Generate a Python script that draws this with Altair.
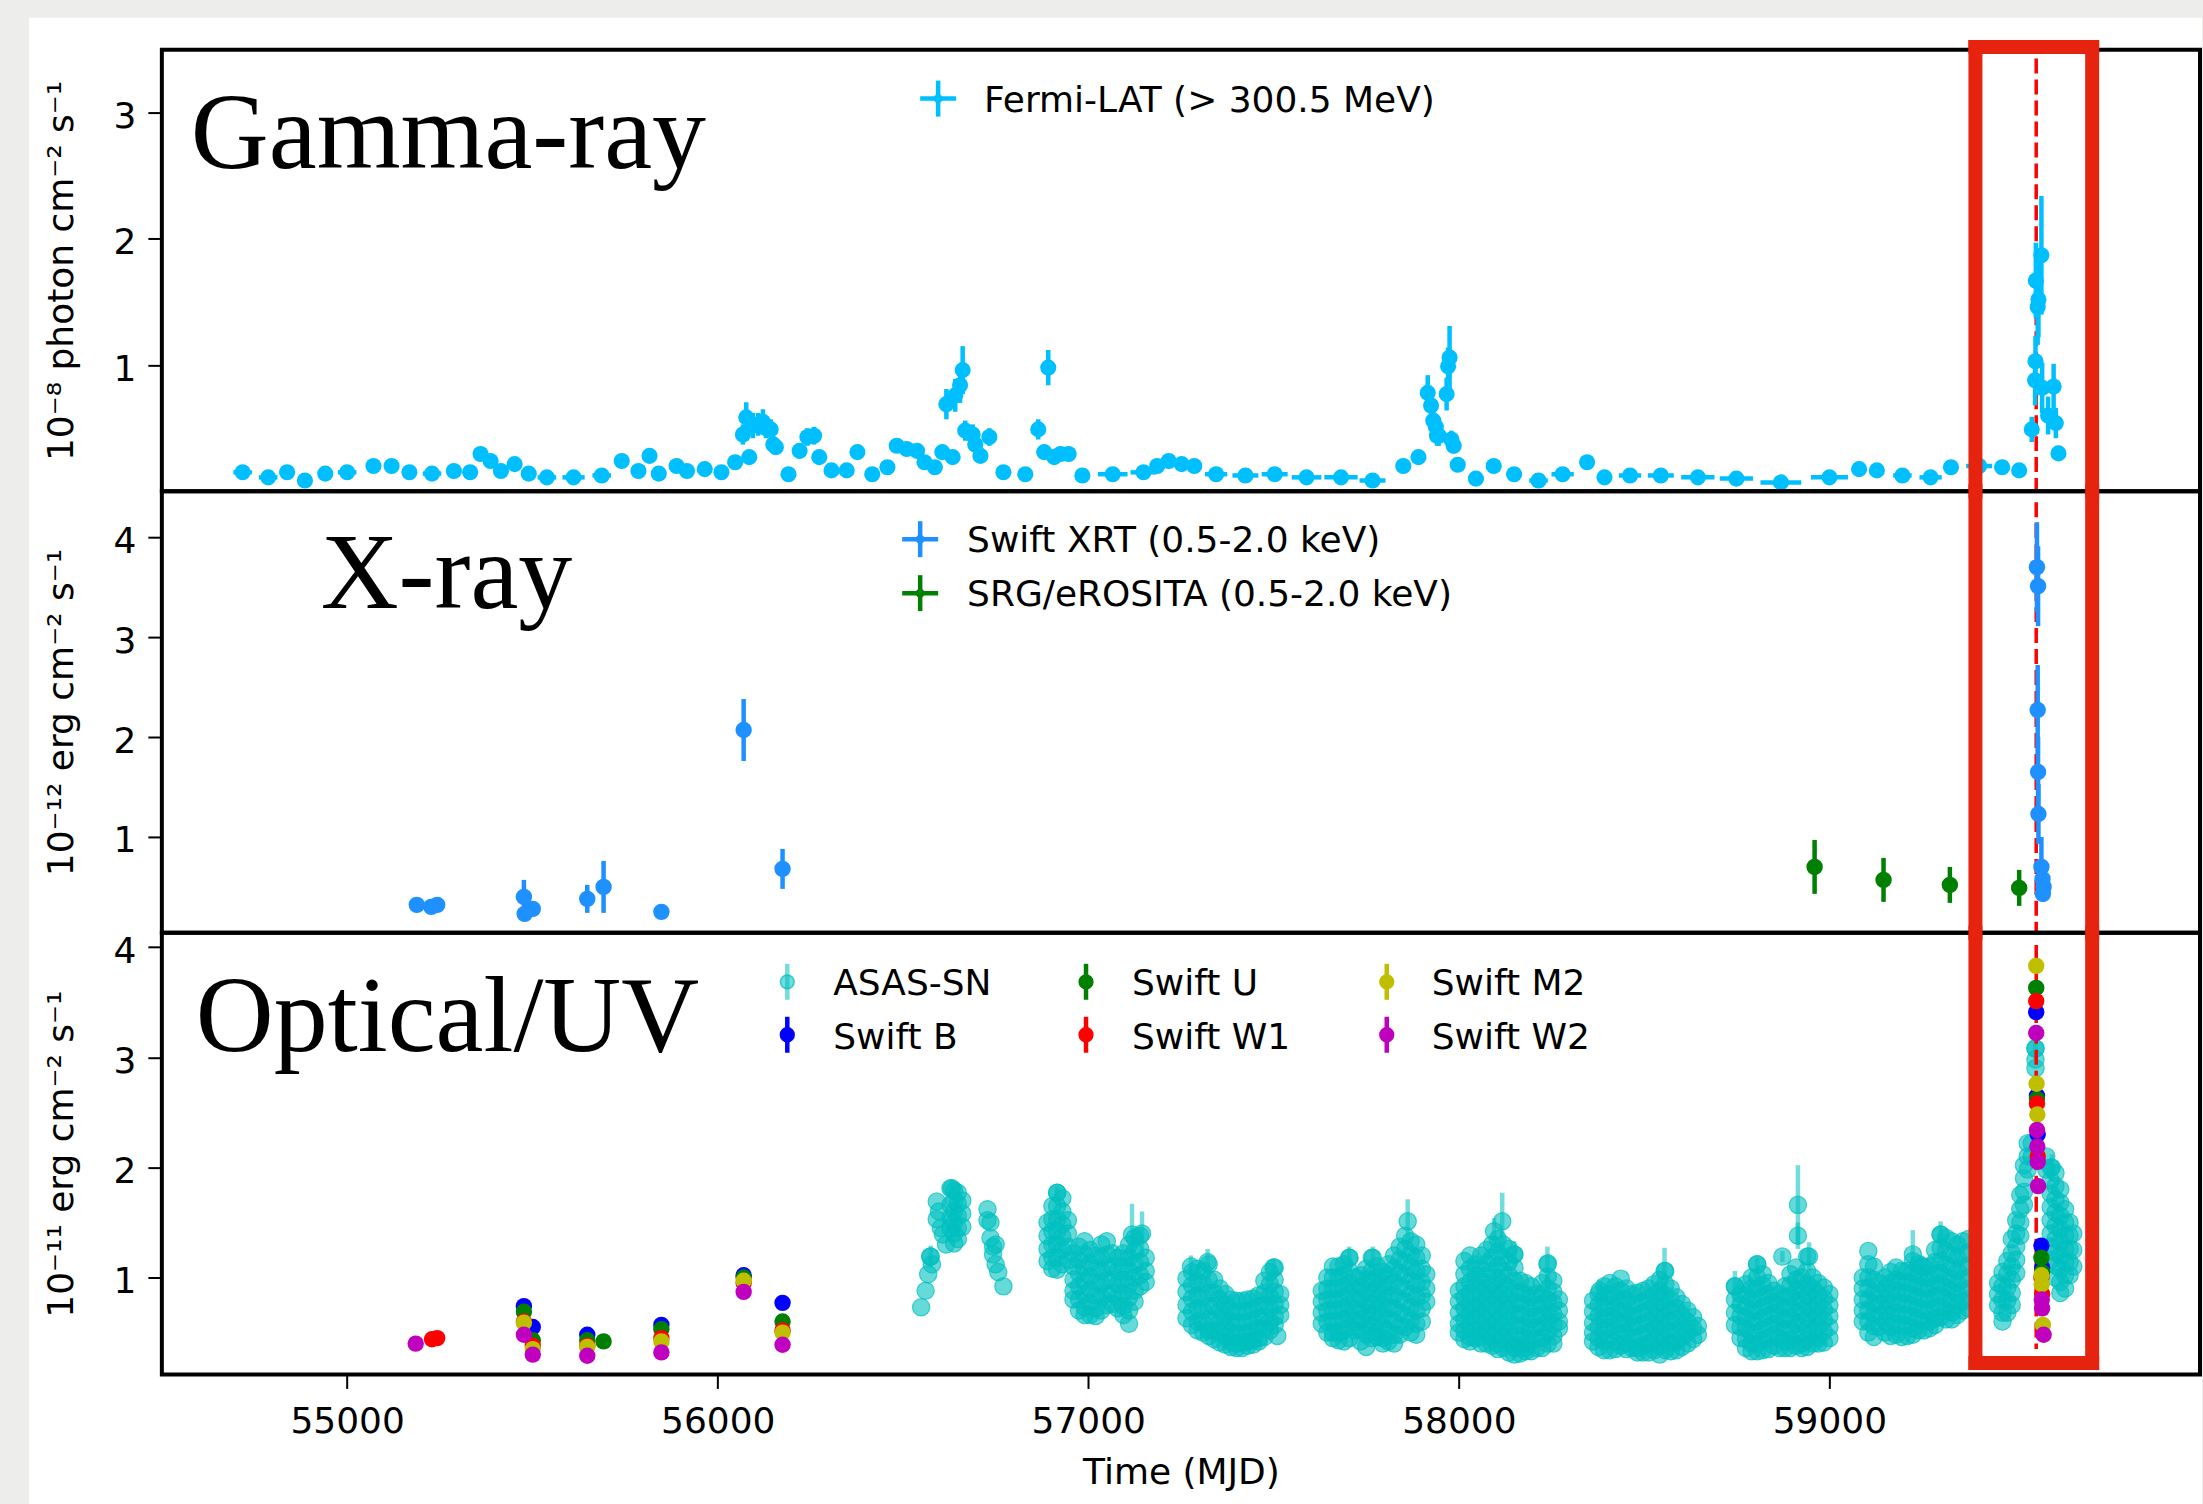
import altair as alt
import pandas as pd

# ---------------- Fermi-LAT (> 300.5 MeV), 1e-8 photon cm^-2 s^-1 ----------------
fermi_mjd = [54718, 54787, 54838, 54886, 54941, 55000, 55071, 55120, 55168, 55229,
             55288, 55332, 55360, 55387, 55415, 55452, 55490, 55539, 55611, 55687,
             55741, 55786, 55816, 55841, 55889, 55917, 55965, 56010, 56047, 56068,
             56077, 56085, 56095, 56109, 56122, 56130, 56143, 56150, 56157, 56191,
             56221, 56242, 56260, 56274, 56307, 56348, 56377, 56417, 56458, 56483,
             56510, 56538, 56558, 56586, 56606, 56617, 56634, 56641, 56654, 56661,
             56668, 56688, 56695, 56709, 56733, 56771, 56830, 56865, 56881, 56892,
             56908, 56925, 56947, 56984, 57066, 57149, 57186, 57217, 57252, 57286,
             57345, 57424, 57503, 57589, 57682, 57767, 57850, 57891, 57916, 57925,
             57931, 57938, 57941, 57946, 57967, 57971, 57975, 57980, 57986, 57997,
             58046, 58094, 58149, 58215, 58280, 58346, 58393, 58462, 58545, 58645,
             58749, 58869, 59000, 59080, 59128, 59197, 59273, 59328, 59404, 59466,
             59512, 59546, 59555, 59556, 59557, 59562, 59564, 59572, 59574, 59590,
             59605, 59611, 59618]
fermi_flux = [0.15, 0.11, 0.15, 0.085, 0.14, 0.15, 0.20, 0.20, 0.15, 0.14,
              0.16, 0.15, 0.295, 0.24, 0.16, 0.215, 0.14, 0.11, 0.11, 0.125,
              0.24, 0.16, 0.28, 0.14, 0.20, 0.16, 0.175, 0.15, 0.23, 0.45,
              0.585, 0.27, 0.52, 0.53, 0.55, 0.50, 0.49, 0.37, 0.35, 0.135,
              0.32, 0.43, 0.44, 0.27, 0.165, 0.165, 0.31, 0.135, 0.19, 0.36,
              0.335, 0.32, 0.23, 0.19, 0.31, 0.69, 0.27, 0.76, 0.84, 0.96,
              0.48, 0.45, 0.37, 0.28, 0.43, 0.15, 0.135, 0.49, 0.31, 0.98,
              0.27, 0.295, 0.295, 0.125, 0.135, 0.15, 0.20, 0.24, 0.215, 0.20,
              0.135, 0.125, 0.135, 0.11, 0.11, 0.085, 0.20, 0.27, 0.78, 0.68,
              0.56, 0.51, 0.44, 0.44, 0.77, 0.99, 1.06, 0.41, 0.36, 0.21,
              0.10, 0.20, 0.135, 0.085, 0.135, 0.23, 0.11, 0.125, 0.125, 0.11,
              0.10, 0.07, 0.11, 0.175, 0.165, 0.125, 0.11, 0.19, 0.20, 0.19,
              0.165, 0.49, 0.88, 1.03, 1.67, 1.46, 1.52, 1.87, 0.82, 0.60,
              0.83, 0.54, 0.30]
fermi_err = [0.03, 0.03, 0.03, 0.03, 0.03, 0.03, 0.03, 0.03, 0.03, 0.03,
             0.03, 0.03, 0.04, 0.04, 0.03, 0.04, 0.03, 0.03, 0.03, 0.03,
             0.04, 0.03, 0.04, 0.03, 0.03, 0.03, 0.03, 0.03, 0.04, 0.08,
             0.12, 0.05, 0.10, 0.09, 0.10, 0.08, 0.08, 0.07, 0.06, 0.04,
             0.06, 0.07, 0.07, 0.05, 0.03, 0.03, 0.05, 0.03, 0.03, 0.05,
             0.05, 0.05, 0.04, 0.03, 0.05, 0.12, 0.05, 0.13, 0.14, 0.19,
             0.08, 0.08, 0.07, 0.05, 0.07, 0.03, 0.03, 0.08, 0.05, 0.14,
             0.05, 0.05, 0.05, 0.03, 0.03, 0.03, 0.03, 0.04, 0.04, 0.03,
             0.03, 0.03, 0.03, 0.03, 0.03, 0.03, 0.04, 0.04, 0.14, 0.12,
             0.10, 0.09, 0.08, 0.08, 0.13, 0.15, 0.25, 0.07, 0.06, 0.04,
             0.03, 0.03, 0.03, 0.03, 0.03, 0.04, 0.03, 0.03, 0.03, 0.03,
             0.03, 0.03, 0.03, 0.03, 0.03, 0.03, 0.03, 0.03, 0.03, 0.03,
             0.03, 0.10, 0.20, 0.20, 0.30, 0.30, 0.30, 0.47, 0.20, 0.15,
             0.18, 0.12, 0.06]
fermi_halfbin = [25, 25, 20, 20, 20, 25, 20, 20, 20, 25,
                 20, 15, 12, 12, 12, 15, 20, 25, 30, 25,
                 15, 15, 10, 12, 15, 12, 15, 15, 10, 5,
                 5, 5, 5, 5, 5, 5, 5, 5, 5, 10,
                 8, 8, 8, 8, 12, 12, 10, 15, 12, 10,
                 10, 10, 8, 10, 8, 5, 5, 5, 5, 5,
                 5, 5, 5, 5, 8, 12, 15, 6, 6, 5,
                 6, 6, 8, 20, 40, 35, 12, 12, 12, 15,
                 30, 35, 35, 40, 45, 35, 12, 8, 4, 4,
                 4, 4, 4, 4, 4, 4, 4, 4, 4, 8,
                 20, 15, 20, 25, 30, 12, 20, 30, 35, 45,
                 45, 55, 50, 15, 15, 25, 30, 15, 35, 20,
                 15, 3, 2, 2, 2, 2, 2, 2, 2, 3,
                 3, 3, 3]

# ---------------- X-ray, 0.5-2.0 keV, 1e-12 erg cm^-2 s^-1 ----------------
xrt_mjd = [55188, 55227, 55243, 55477, 55479, 55501, 55648, 55692, 55848, 56070,
           56175, 59560, 59563, 59562, 59563, 59564, 59572, 59575, 59578, 59576]
xrt_flux = [0.32, 0.30, 0.32, 0.40, 0.23, 0.28, 0.38, 0.50, 0.25, 2.07,
            0.68, 3.70, 3.51, 2.27, 1.65, 1.23, 0.70, 0.58, 0.50, 0.43]
xrt_err = [0.02, 0.02, 0.02, 0.17, 0.03, 0.04, 0.14, 0.26, 0.02, 0.31,
           0.20, 0.45, 0.40, 0.45, 0.35, 0.30, 0.30, 0.12, 0.10, 0.08]

srg_mjd = [58960, 59146, 59325, 59512]
srg_flux = [0.70, 0.57, 0.52, 0.49]
srg_err = [0.27, 0.22, 0.18, 0.18]
srg_halfbin = [20, 20, 20, 20]

# ---------------- Swift UVOT, 1e-11 erg cm^-2 s^-1 ----------------
swift_b_mjd = [55477, 55501, 55648, 55848, 56070, 56175, 59558, 59560, 59562, 59572, 59574]
swift_b_flux = [0.74, 0.55, 0.48, 0.57, 1.02, 0.77, 3.41, 2.65, 2.30, 1.29, 1.09]
swift_u_mjd = [55477, 55501, 55648, 55692, 55848, 56070, 56175, 59558, 59560, 59572, 59574]
swift_u_flux = [0.69, 0.43, 0.43, 0.42, 0.53, 1.00, 0.60, 3.63, 2.62, 1.18, 1.05]
swift_w1_mjd = [55229, 55243, 55477, 55501, 55648, 55848, 56070, 56175, 59558, 59560, 59562, 59572, 59574]
swift_w1_flux = [0.44, 0.45, 0.60, 0.38, 0.38, 0.45, 0.95, 0.52, 3.51, 2.58, 2.10, 1.00, 0.85]
swift_m2_mjd = [55477, 55501, 55648, 55848, 56070, 56175, 59558, 59559, 59561, 59572, 59573, 59576]
swift_m2_flux = [0.59, 0.35, 0.37, 0.42, 0.97, 0.50, 3.83, 2.76, 2.48, 1.02, 0.94, 0.57]
swift_w2_mjd = [55185, 55477, 55501, 55648, 55848, 56070, 56175, 59558, 59560, 59561, 59562, 59563, 59573, 59574, 59578]
swift_w2_flux = [0.40, 0.48, 0.30, 0.29, 0.32, 0.87, 0.39, 3.22, 2.34, 2.19, 2.05, 1.83, 0.80, 0.72, 0.48]

# ---------------- ASAS-SN, 1e-11 erg cm^-2 s^-1, one entry per night group ----------------
asas_2013 = [
    (56549, [0.73]), (56561, [0.88]), (56568, [1.03]), (56573, [1.19]), (56578, [1.12]),
    (56591, [1.69, 1.53]), (56597, [1.60]), (56602, [1.45]), (56608, [1.39]), (56616, [1.30]),
    (56628, [1.81, 1.66, 1.54, 1.45]),
    (56638, [1.79, 1.70, 1.60, 1.50, 1.40, 1.31]),
    (56648, [1.77, 1.67, 1.56, 1.45, 1.35]),
    (56660, [1.70, 1.58, 1.46]),
    (56728, [1.62, 1.52]), (56736, [1.50, 1.36]), (56743, [1.28, 1.21]),
    (56750, [1.30, 1.12]), (56757, [1.05]), (56771, [0.92]),
]
asas_2014 = [
    (56890, [1.50, 1.38, 1.26, 1.15]),
    (56903, [1.65, 1.53, 1.42, 1.30, 1.18, 1.08]),
    (56916, [1.77, 1.65, 1.53, 1.42, 1.30, 1.18, 1.07]),
    (56930, [1.72, 1.60, 1.48, 1.37, 1.25, 1.12]),
    (56945, [1.52, 1.40, 1.28, 1.16]),
    (56960, [1.22, 1.10, 0.98, 0.88, 0.80]),
    (56975, [1.28, 1.16, 1.04, 0.92, 0.80, 0.70]),
    (56990, [1.33, 1.21, 1.09, 0.97, 0.85, 0.73, 0.66]),
    (57005, [1.25, 1.13, 1.01, 0.89, 0.77, 0.66]),
    (57020, [1.20, 1.08, 0.96, 0.84, 0.72, 0.65]),
    (57035, [1.30, 1.18, 1.06, 0.94, 0.82, 0.70]),
    (57050, [1.33, 1.21, 1.09, 0.97, 0.85, 0.75]),
    (57065, [1.22, 1.10, 0.98, 0.86, 0.76]),
    (57080, [1.18, 1.06, 0.94, 0.82, 0.72]),
    (57095, [1.22, 1.10, 0.98, 0.86, 0.74, 0.66]),
    (57110, [1.30, 1.18, 1.06, 0.94, 0.82, 0.70, 0.58]),
    (57125, [1.36, 1.24, 1.12, 1.00, 0.88, 0.78]),
    (57140, [1.38, 1.26, 1.14, 1.02, 0.92]),
    (57155, [1.18, 1.06, 0.96]),
]
asas_2015 = [
    (57265, [0.99, 0.87, 0.75, 0.63]),
    (57280, [1.05, 0.93, 0.81, 0.69, 0.57]),
    (57295, [1.08, 0.96, 0.84, 0.72, 0.60, 0.52]),
    (57310, [1.06, 0.94, 0.82, 0.70, 0.59, 0.50]),
    (57325, [1.12, 0.98, 0.86, 0.74, 0.62, 0.52, 0.47]),
    (57340, [0.98, 0.86, 0.74, 0.62, 0.52, 0.44]),
    (57355, [0.90, 0.80, 0.70, 0.60, 0.50, 0.41]),
    (57370, [0.85, 0.75, 0.65, 0.55, 0.46, 0.39]),
    (57385, [0.80, 0.70, 0.60, 0.50, 0.42, 0.37]),
    (57400, [0.79, 0.69, 0.59, 0.49, 0.40, 0.36]),
    (57415, [0.79, 0.69, 0.59, 0.49, 0.41, 0.36]),
    (57430, [0.80, 0.70, 0.60, 0.50, 0.42, 0.38]),
    (57445, [0.81, 0.71, 0.61, 0.51, 0.43, 0.39]),
    (57460, [0.84, 0.74, 0.64, 0.54, 0.45, 0.42]),
    (57475, [0.97, 0.86, 0.75, 0.64, 0.54, 0.46]),
    (57490, [1.05, 0.94, 0.83, 0.72, 0.60, 0.52]),
    (57503, [1.09, 0.98, 0.87, 0.76, 0.64, 0.57]),
    (57510, [0.47]),
    (57518, [0.85, 0.75, 0.66]),
]
asas_2016 = [
    (57630, [0.88, 0.78, 0.68, 0.58]),
    (57645, [1.00, 0.90, 0.80, 0.70, 0.60, 0.50]),
    (57660, [1.10, 1.00, 0.90, 0.80, 0.70, 0.60, 0.50, 0.45]),
    (57675, [1.10, 1.00, 0.90, 0.80, 0.70, 0.60, 0.50, 0.43]),
    (57690, [1.12, 1.02, 0.92, 0.82, 0.72, 0.62, 0.52, 0.42]),
    (57705, [1.18, 1.06, 0.95, 0.85, 0.75, 0.65, 0.55, 0.45]),
    (57720, [1.00, 0.90, 0.80, 0.70, 0.60, 0.52]),
    (57735, [1.02, 0.92, 0.82, 0.72, 0.62, 0.52, 0.42]),
    (57750, [1.08, 0.98, 0.88, 0.78, 0.68, 0.58, 0.48, 0.37]),
    (57765, [1.18, 1.06, 0.95, 0.85, 0.75, 0.65, 0.55, 0.45]),
    (57780, [1.10, 1.00, 0.90, 0.80, 0.70, 0.60, 0.50, 0.46]),
    (57795, [1.05, 0.95, 0.85, 0.75, 0.65, 0.55, 0.45, 0.40]),
    (57810, [1.12, 1.02, 0.92, 0.82, 0.72, 0.62, 0.52, 0.42]),
    (57825, [1.20, 1.08, 0.96, 0.84, 0.72, 0.60, 0.48, 0.40]),
    (57840, [1.28, 1.16, 1.04, 0.92, 0.80, 0.68, 0.56, 0.48]),
    (57855, [1.38, 1.26, 1.14, 1.02, 0.90, 0.78, 0.66, 0.55]),
    (57870, [1.33, 1.21, 1.09, 0.97, 0.85, 0.73, 0.61, 0.50]),
    (57885, [1.30, 1.18, 1.06, 0.94, 0.82, 0.70, 0.58, 0.48]),
    (57900, [1.20, 1.08, 0.96, 0.84, 0.72, 0.60]),
    (57912, [1.03, 0.90, 0.78]),
]
asas_2017 = [
    (58000, [0.88, 0.78, 0.68, 0.58, 0.50]),
    (58015, [1.15, 1.03, 0.92, 0.82, 0.72, 0.62, 0.52, 0.44]),
    (58030, [1.20, 1.08, 0.96, 0.86, 0.76, 0.66, 0.56, 0.46, 0.42]),
    (58045, [1.12, 1.02, 0.92, 0.82, 0.72, 0.62, 0.52, 0.45]),
    (58060, [1.20, 1.08, 0.96, 0.86, 0.76, 0.66, 0.56, 0.46, 0.40]),
    (58075, [1.25, 1.13, 1.01, 0.90, 0.80, 0.70, 0.60, 0.50, 0.40]),
    (58090, [1.30, 1.18, 1.06, 0.95, 0.85, 0.75, 0.65, 0.55, 0.45, 0.38]),
    (58105, [1.35, 1.23, 1.11, 1.00, 0.90, 0.80, 0.70, 0.60, 0.50, 0.40, 0.35]),
    (58120, [1.30, 1.18, 1.06, 0.95, 0.85, 0.75, 0.65, 0.55, 0.45, 0.36]),
    (58135, [1.26, 1.14, 1.02, 0.91, 0.81, 0.71, 0.61, 0.51, 0.41, 0.32]),
    (58150, [1.21, 1.09, 0.97, 0.86, 0.76, 0.66, 0.56, 0.46, 0.36, 0.30]),
    (58165, [0.97, 0.87, 0.77, 0.67, 0.57, 0.47, 0.38, 0.31]),
    (58180, [0.95, 0.85, 0.75, 0.65, 0.55, 0.45, 0.36, 0.33]),
    (58195, [0.92, 0.82, 0.72, 0.62, 0.52, 0.42, 0.33]),
    (58210, [0.85, 0.75, 0.65, 0.55, 0.45, 0.36]),
    (58225, [0.95, 0.85, 0.75, 0.65, 0.55, 0.45, 0.36]),
    (58240, [1.13, 1.01, 0.90, 0.80, 0.70, 0.60, 0.50, 0.40]),
    (58255, [0.97, 0.87, 0.77, 0.67, 0.57, 0.47, 0.40]),
    (58270, [0.80, 0.70, 0.60, 0.54]),
]
asas_2018 = [
    (58362, [0.79, 0.69, 0.59, 0.50, 0.42]),
    (58377, [0.85, 0.75, 0.65, 0.55, 0.45, 0.37]),
    (58392, [0.92, 0.82, 0.72, 0.62, 0.52, 0.42, 0.34]),
    (58407, [0.95, 0.85, 0.75, 0.65, 0.55, 0.45, 0.34]),
    (58422, [0.92, 0.82, 0.72, 0.62, 0.52, 0.42, 0.35]),
    (58437, [0.99, 0.88, 0.78, 0.68, 0.58, 0.48, 0.38]),
    (58452, [0.90, 0.80, 0.70, 0.60, 0.50, 0.40, 0.35]),
    (58467, [0.85, 0.75, 0.65, 0.55, 0.45, 0.36]),
    (58482, [0.86, 0.76, 0.66, 0.56, 0.46, 0.36, 0.32]),
    (58497, [0.88, 0.78, 0.68, 0.58, 0.48, 0.38, 0.32]),
    (58512, [0.90, 0.80, 0.70, 0.60, 0.50, 0.40, 0.32]),
    (58527, [0.94, 0.84, 0.74, 0.64, 0.54, 0.44, 0.34]),
    (58542, [0.98, 0.88, 0.78, 0.68, 0.58, 0.48, 0.38, 0.30]),
    (58557, [1.06, 0.94, 0.84, 0.74, 0.64, 0.54, 0.44, 0.34]),
    (58572, [0.90, 0.80, 0.70, 0.60, 0.50, 0.40, 0.33]),
    (58587, [0.82, 0.72, 0.62, 0.52, 0.42, 0.34]),
    (58602, [0.76, 0.66, 0.56, 0.46, 0.37]),
    (58617, [0.70, 0.60, 0.50, 0.40]),
    (58632, [0.64, 0.54, 0.44]),
    (58645, [0.56, 0.48]),
]
asas_2019 = [
    (58745, [0.92, 0.80, 0.68, 0.57]),
    (58760, [0.85, 0.75, 0.65, 0.55, 0.45]),
    (58775, [0.94, 0.84, 0.74, 0.64, 0.54, 0.44, 0.36]),
    (58790, [1.00, 0.90, 0.80, 0.70, 0.60, 0.50, 0.40, 0.33]),
    (58805, [1.12, 1.00, 0.90, 0.80, 0.70, 0.60, 0.50, 0.40, 0.33]),
    (58820, [1.03, 0.93, 0.83, 0.73, 0.63, 0.53, 0.43, 0.34]),
    (58835, [0.95, 0.85, 0.75, 0.65, 0.55, 0.45, 0.35]),
    (58850, [0.88, 0.78, 0.68, 0.58, 0.48, 0.38]),
    (58865, [0.85, 0.75, 0.65, 0.55, 0.45, 0.36]),
    (58880, [0.92, 0.82, 0.72, 0.62, 0.52, 0.42, 0.36]),
    (58895, [1.03, 0.93, 0.83, 0.73, 0.63, 0.53, 0.43, 0.36]),
    (58910, [1.09, 0.98, 0.88, 0.78, 0.68, 0.58, 0.48, 0.38]),
    (58925, [1.00, 0.90, 0.80, 0.70, 0.60, 0.50, 0.40, 0.36]),
    (58940, [1.19, 1.06, 0.94, 0.84, 0.74, 0.64, 0.54, 0.44, 0.37]),
    (58955, [1.00, 0.90, 0.80, 0.70, 0.60, 0.50, 0.40]),
    (58970, [0.95, 0.85, 0.75, 0.65, 0.55, 0.45, 0.40]),
    (58985, [0.91, 0.81, 0.71, 0.61, 0.51, 0.41]),
    (59000, [0.85, 0.75, 0.65, 0.55, 0.45]),
]
asas_2020 = [
    (59090, [1.00, 0.90, 0.80, 0.70, 0.60]),
    (59105, [1.24, 1.12, 1.00, 0.90, 0.80, 0.70, 0.60, 0.50]),
    (59120, [1.10, 0.98, 0.86, 0.76, 0.66, 0.56, 0.46]),
    (59135, [0.95, 0.85, 0.75, 0.65, 0.55]),
    (59150, [1.00, 0.90, 0.80, 0.70, 0.60, 0.50]),
    (59165, [1.05, 0.95, 0.85, 0.75, 0.65, 0.55, 0.47]),
    (59180, [1.09, 0.98, 0.88, 0.78, 0.68, 0.58, 0.48]),
    (59195, [1.06, 0.96, 0.86, 0.76, 0.66, 0.56, 0.46]),
    (59210, [1.06, 0.96, 0.86, 0.76, 0.66, 0.56, 0.47]),
    (59225, [1.15, 1.04, 0.94, 0.84, 0.74, 0.64, 0.54, 0.48]),
    (59240, [1.12, 1.02, 0.92, 0.82, 0.72, 0.62, 0.52]),
    (59255, [1.10, 1.00, 0.90, 0.80, 0.70, 0.60, 0.52]),
    (59270, [1.10, 1.00, 0.90, 0.80, 0.70, 0.60, 0.54]),
    (59285, [1.25, 1.14, 1.03, 0.93, 0.83, 0.73, 0.63, 0.57]),
    (59300, [1.39, 1.27, 1.15, 1.04, 0.94, 0.84, 0.74, 0.64]),
    (59315, [1.36, 1.24, 1.12, 1.01, 0.91, 0.81, 0.71, 0.62]),
    (59330, [1.33, 1.21, 1.09, 0.98, 0.88, 0.78, 0.68, 0.62]),
    (59345, [1.30, 1.18, 1.06, 0.95, 0.85, 0.75, 0.66]),
    (59360, [1.33, 1.21, 1.09, 0.98, 0.88, 0.78, 0.70]),
    (59375, [1.35, 1.23, 1.11, 1.00, 0.90, 0.80, 0.72]),
]
asas_2021 = [
    (59455, [0.95, 0.85, 0.75]),
    (59467, [1.05, 0.92, 0.80, 0.68, 0.60]),
    (59480, [1.15, 1.03, 0.91, 0.79, 0.68]),
    (59492, [1.35, 1.22, 1.10, 0.98, 0.86, 0.75]),
    (59504, [1.52, 1.40, 1.28, 1.16, 1.04]),
    (59515, [1.75, 1.62, 1.50, 1.38]),
    (59525, [2.02, 1.90, 1.78, 1.66]),
    (59535, [2.22, 2.10, 1.98]),
    (59546, [2.22, 2.10]),
    (59556, [3.08, 2.98, 2.90]),
    (59585, [2.10, 1.98]),
    (59597, [2.00, 1.88, 1.76, 1.64, 1.52, 1.40, 1.28, 1.16]),
    (59610, [1.95, 1.83, 1.71, 1.59, 1.47, 1.35, 1.23, 1.11, 1.00]),
    (59623, [1.80, 1.68, 1.56, 1.44, 1.32, 1.20, 1.08, 0.96, 0.86]),
    (59636, [1.62, 1.50, 1.38, 1.26, 1.14, 1.02, 0.90]),
    (59648, [1.50, 1.38, 1.26, 1.14, 1.02]),
    (59658, [1.40, 1.25, 1.10]),
]
# ASAS-SN points whose error bars stand out above the cloud
asas_bar_mjd = [56575, 56632, 56916, 57118, 57145, 57277, 57322, 57500, 57704, 57768,
                57862, 58095, 58117, 58149, 58239, 58380, 58555, 58745, 58805, 58873,
                58915, 58915, 58945, 59225, 59250, 59300, 59556, 59600]
asas_bar_flux = [1.19, 1.81, 1.77, 1.39, 1.40, 1.10, 1.14, 1.09, 1.18, 1.18,
                 1.51, 1.42, 1.51, 1.21, 1.12, 0.88, 1.06, 0.92, 1.12, 1.19,
                 1.66, 1.38, 1.19, 1.21, 1.10, 1.39, 3.08, 2.00]
asas_bar_err = [0.10, 0.08, 0.06, 0.28, 0.20, 0.10, 0.12, 0.08, 0.10, 0.10,
                0.20, 0.12, 0.26, 0.12, 0.16, 0.10, 0.21, 0.14, 0.06, 0.05,
                0.36, 0.12, 0.13, 0.22, 0.10, 0.12, 0.10, 0.12]

# ---------------- layout and style ----------------
W, H = 2040, 442
X_DOMAIN = [54500, 60000]
FLARE_MJD = 59558
BOX_MJD = [59394, 59709]
FONT = "DejaVu Sans"
SERIF = "Liberation Serif"
RED_BOX = "#e6230f"
C_FERMI = "#00BFFF"
C_XRT = "#1E90FF"
C_SRG = "#008000"
C_ASAS = "#00BFBF"
C_B, C_U, C_W1, C_M2, C_W2 = "#0000FF", "#008000", "#FF0000", "#BFBF00", "#BF00BF"

one = pd.DataFrame({"k": [0]})
xs = alt.Scale(domain=X_DOMAIN, nice=False, zero=False)
ys_gamma = alt.Scale(domain=[0.0, 3.5], nice=False, zero=False)
ys_xray = alt.Scale(domain=[0.04, 4.46], nice=False, zero=False)
ys_opt = alt.Scale(domain=[0.12, 4.13], nice=False, zero=False)


def y_axis(title, values):
    return alt.Axis(values=values, format="d", title=title, grid=False, domain=False,
                    tickSize=14, tickWidth=2, tickColor="black",
                    labelFont=FONT, labelFontSize=36, labelColor="black",
                    labelPadding=12, labelOffset=4,
                    titleFont=FONT, titleFontSize=36, titleColor="black",
                    titleFontWeight="normal", titleAngle=270, titleAlign="center",
                    titleBaseline="alphabetic", titleX=-89, titleY=H / 2, zindex=2)


time_axis = alt.Axis(values=[55000, 56000, 57000, 58000, 59000], format="d",
                     title="Time (MJD)", grid=False, domain=False,
                     tickSize=14, tickWidth=2, tickColor="black",
                     labelFont=FONT, labelFontSize=36, labelColor="black", labelPadding=16,
                     titleFont=FONT, titleFontSize=36, titleColor="black",
                     titleFontWeight="normal", titleBaseline="alphabetic",
                     titleX=W / 2, titleY=109, zindex=2)


class Panel:
    """Encoding helpers for one panel: every layer gets the same axis objects."""

    def __init__(self, yscale, yaxis, xaxis=None):
        self.yscale, self.yaxis, self.xaxis = yscale, yaxis, xaxis

    def X(self, field):
        return alt.X(f"{field}:Q", scale=xs, axis=self.xaxis)

    def Y(self, field):
        return alt.Y(f"{field}:Q", scale=self.yscale, axis=self.yaxis)

    def errbars(self, df, color, width=4.5, opacity=1.0, horizontal=False):
        layers = []
        if horizontal:
            layers.append(alt.Chart(df).mark_rule(color=color, strokeWidth=width, opacity=opacity)
                          .encode(x=self.X("x0"), x2="x1:Q", y=self.Y("flux")))
        layers.append(alt.Chart(df).mark_rule(color=color, strokeWidth=width, opacity=opacity)
                      .encode(x=self.X("mjd"), y=self.Y("lo"), y2="hi:Q"))
        return layers

    def points(self, df, color, size):
        return (alt.Chart(df).mark_circle(size=size, color=color, opacity=1)
                .encode(x=self.X("mjd"), y=self.Y("flux")))

    def flare_line(self, top, bottom):
        df = pd.DataFrame({"mjd": [FLARE_MJD], "top": [top], "bottom": [bottom]})
        return (alt.Chart(df)
                .mark_rule(color="#FF0000", strokeWidth=3.5, strokeDash=[15, 6])
                .encode(x=self.X("mjd"), y=self.Y("top"), y2="bottom:Q"))

    def red_box(self, top, bottom, top_edge=None, bottom_edge=None):
        sides = pd.DataFrame({"mjd": BOX_MJD, "top": [top, top], "bottom": [bottom, bottom]})
        layers = [alt.Chart(sides)
                  .mark_rule(color=RED_BOX, strokeWidth=14, strokeCap="square")
                  .encode(x=self.X("mjd"), y=self.Y("top"), y2="bottom:Q")]
        for edge in (top_edge, bottom_edge):
            if edge is not None:
                e = pd.DataFrame({"a": [BOX_MJD[0]], "b": [BOX_MJD[1]], "v": [edge]})
                layers.append(alt.Chart(e)
                              .mark_rule(color=RED_BOX, strokeWidth=14, strokeCap="square")
                              .encode(x=self.X("a"), x2="b:Q", y=self.Y("v")))
        return layers


def with_bounds(df, halfbin=None):
    df = df.copy()
    df["lo"] = df["flux"] - df["err"]
    df["hi"] = df["flux"] + df["err"]
    if halfbin is not None:
        df["x0"] = df["mjd"] - df[halfbin]
        df["x1"] = df["mjd"] + df[halfbin]
    return df


def frame():
    return (alt.Chart(one)
            .mark_rect(fillOpacity=0, stroke="black", strokeWidth=4)
            .encode(x=alt.value(0), x2=alt.value(W), y=alt.value(0), y2=alt.value(H)))


def band_label(text, x, y):
    return (alt.Chart(one)
            .mark_text(text=text, font=SERIF, fontSize=108, align="left",
                       baseline="alphabetic", color="black")
            .encode(x=alt.value(x), y=alt.value(y)))


def legend_text(text, x, y):
    return (alt.Chart(one)
            .mark_text(text=text, font=FONT, fontSize=36, align="left",
                       baseline="alphabetic", color="black")
            .encode(x=alt.value(x), y=alt.value(y)))


def cross_key(cx, cy, color, text, tx, ty):
    return [
        alt.Chart(one).mark_rule(color=color, strokeWidth=4.5)
        .encode(x=alt.value(cx - 18), x2=alt.value(cx + 18), y=alt.value(cy)),
        alt.Chart(one).mark_rule(color=color, strokeWidth=4.5)
        .encode(x=alt.value(cx), y=alt.value(cy - 18), y2=alt.value(cy + 18)),
        alt.Chart(one).mark_circle(color=color, size=80, opacity=1)
        .encode(x=alt.value(cx), y=alt.value(cy)),
        legend_text(text, tx, ty),
    ]


def bar_key(cx, cy, color, text, tx, ty, light=False):
    op = 0.55 if light else 1.0
    return [
        alt.Chart(one).mark_rule(color=color, strokeWidth=4.5, opacity=op)
        .encode(x=alt.value(cx), y=alt.value(cy - 18), y2=alt.value(cy + 18)),
        alt.Chart(one).mark_circle(color=color, size=190, opacity=1, fillOpacity=op,
                                   stroke=color, strokeWidth=1.5, strokeOpacity=min(1.0, op + 0.2))
        .encode(x=alt.value(cx), y=alt.value(cy)),
        legend_text(text, tx, ty),
    ]


# ---------------- Gamma-ray panel ----------------
fermi = with_bounds(pd.DataFrame({"mjd": fermi_mjd, "flux": fermi_flux,
                                  "err": fermi_err, "hb": fermi_halfbin}), "hb")
pg = Panel(ys_gamma, y_axis("10⁻⁸ photon cm⁻² s⁻¹", [1, 2, 3]))

card = (alt.Chart(one).mark_rect(color="white")
        .encode(x=alt.value(-133), x2=alt.value(W + 2), y=alt.value(-32), y2=alt.value(1456)))

gamma_layers = [card, pg.flare_line(3.43, 0.0)]
gamma_layers += pg.errbars(fermi, C_FERMI, horizontal=True)
gamma_layers.append(pg.points(fermi, C_FERMI, 260))
gamma_layers.append(band_label("Gamma-ray", 29, 118))
gamma_layers += cross_key(777, 49, C_FERMI, "Fermi-LAT (> 300.5 MeV)", 823, 62)
gamma_layers.append(frame())
gamma_layers += pg.red_box(3.52, 0.0, top_edge=3.52)
gamma = alt.layer(*gamma_layers).properties(width=W, height=H)

# ---------------- X-ray panel ----------------
xrt = with_bounds(pd.DataFrame({"mjd": xrt_mjd, "flux": xrt_flux, "err": xrt_err}))
srg = with_bounds(pd.DataFrame({"mjd": srg_mjd, "flux": srg_flux, "err": srg_err,
                                "hb": srg_halfbin}), "hb")
px = Panel(ys_xray, y_axis("10⁻¹² erg cm⁻² s⁻¹", [1, 2, 3, 4]))

xray_layers = [px.flare_line(4.35, 0.04)]
xray_layers += px.errbars(xrt, C_XRT)
xray_layers.append(px.points(xrt, C_XRT, 270))
xray_layers += px.errbars(srg, C_SRG, horizontal=True)
xray_layers.append(px.points(srg, C_SRG, 270))
xray_layers.append(band_label("X-ray", 159, 117))
xray_layers += cross_key(759, 48, C_XRT, "Swift XRT (0.5-2.0 keV)", 806, 61)
xray_layers += cross_key(759, 102, C_SRG, "SRG/eROSITA (0.5-2.0 keV)", 806, 115)
xray_layers.append(frame())
xray_layers += px.red_box(4.46, 0.04)
xray = alt.layer(*xray_layers).properties(width=W, height=H)

# ---------------- Optical/UV panel ----------------
asas_rows = [(m, f)
             for season in (asas_2013, asas_2014, asas_2015, asas_2016, asas_2017,
                            asas_2018, asas_2019, asas_2020, asas_2021)
             for m, fluxes in season for f in fluxes]
asas = pd.DataFrame(asas_rows, columns=["mjd", "flux"])
asas_bars = with_bounds(pd.DataFrame({"mjd": asas_bar_mjd, "flux": asas_bar_flux,
                                      "err": asas_bar_err}))
po = Panel(ys_opt, y_axis("10⁻¹¹ erg cm⁻² s⁻¹", [1, 2, 3, 4]), time_axis)

asas_style = dict(size=300, color=C_ASAS, opacity=1, fillOpacity=0.6,
                  stroke=C_ASAS, strokeOpacity=0.7, strokeWidth=1.2)
opt_layers = [alt.Chart(asas).mark_circle(**asas_style)
              .encode(x=po.X("mjd"), y=po.Y("flux"))]
opt_layers += po.errbars(asas_bars, C_ASAS, width=4.5, opacity=0.55)
opt_layers.append(alt.Chart(asas_bars).mark_circle(**asas_style)
                  .encode(x=po.X("mjd"), y=po.Y("flux")))
opt_layers.append(po.flare_line(4.02, 0.35))
for mjd, flux, color in ((swift_b_mjd, swift_b_flux, C_B),
                         (swift_u_mjd, swift_u_flux, C_U),
                         (swift_w1_mjd, swift_w1_flux, C_W1),
                         (swift_m2_mjd, swift_m2_flux, C_M2),
                         (swift_w2_mjd, swift_w2_flux, C_W2)):
    opt_layers.append(po.points(pd.DataFrame({"mjd": mjd, "flux": flux}), color, 270))
opt_layers.append(band_label("Optical/UV", 34, 118))
opt_layers += bar_key(626, 49, C_ASAS, "ASAS-SN", 672, 62, light=True)
opt_layers += bar_key(626, 102, C_B, "Swift B", 672, 116)
opt_layers += bar_key(925, 49, C_U, "Swift U", 971, 62)
opt_layers += bar_key(925, 102, C_W1, "Swift W1", 971, 116)
opt_layers += bar_key(1226, 49, C_M2, "Swift M2", 1271, 62)
opt_layers += bar_key(1226, 102, C_W2, "Swift W2", 1271, 116)
opt_layers.append(frame())
opt_layers += po.red_box(4.13, 0.223, bottom_edge=0.223)
optical = alt.layer(*opt_layers).properties(width=W, height=H)

chart = (alt.vconcat(gamma, xray, optical, spacing=0, bounds="flush")
         .resolve_scale(x="independent", y="independent")
         .properties(padding={"left": 28, "top": 16, "right": 0, "bottom": 0},
                     background="#EDEDEB")
         .configure_view(strokeWidth=0)
         .configure(font=FONT))

chart.save("out.html", embed_options={"renderer": "svg", "actions": False})
